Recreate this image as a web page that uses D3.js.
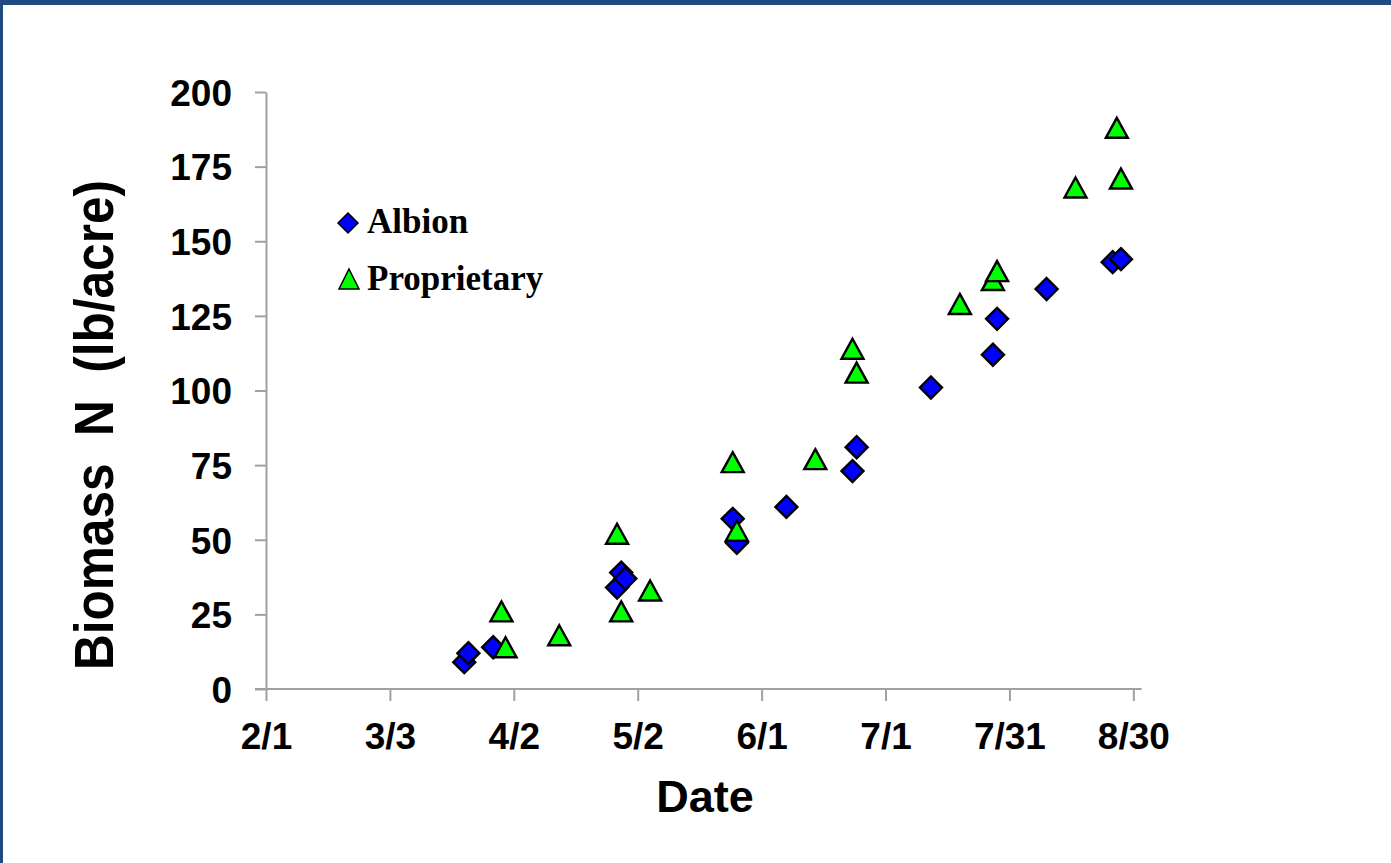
<!DOCTYPE html>
<html><head><meta charset="utf-8">
<script src="https://cdn.jsdelivr.net/npm/d3@7"></script>
<style>
html,body{margin:0;padding:0;background:#fff;}
svg{display:block;}
</style></head>
<body>
<svg id="chart" width="1391" height="863"></svg>
<script>
// ---- data ----
const albionDates = ["2013-03-21","2013-03-22","2013-03-28","2013-04-27","2013-04-28","2013-04-29","2013-05-25","2013-05-26","2013-06-07","2013-06-23","2013-06-24","2013-07-12","2013-07-27","2013-07-28","2013-08-09","2013-08-25","2013-08-27"];
const albionValues = [9,12,14,34,39,37,57,49,61,73,81,101,112,124,134,143,144];
const propDates = ["2013-03-30","2013-03-31","2013-04-13","2013-04-27","2013-04-28","2013-05-05","2013-05-25","2013-05-26","2013-06-14","2013-06-23","2013-06-24","2013-07-19","2013-07-27","2013-07-28","2013-08-16","2013-08-26","2013-08-27"];
const propValues = [26,14,18,52,26,33,76,53,77,114,106,129,137,140,168,188,171];
const xTickLabels = ["2/1","3/3","4/2","5/2","6/1","7/1","7/31","8/30"];
const xTickDates = ["2013-02-01","2013-03-03","2013-04-02","2013-05-02","2013-06-01","2013-07-01","2013-07-31","2013-08-30"];
const yTicks = [0,25,50,75,100,125,150,175,200];
const seriesNames = ["Albion","Proprietary"];

const parse = d3.timeParse("%Y-%m-%d");
const svg = d3.select("#chart");

// frame
svg.append("rect").attr("x",0).attr("y",0).attr("width",1391).attr("height",5).attr("fill","#204a80");
svg.append("rect").attr("x",0).attr("y",0).attr("width",3).attr("height",863).attr("fill","#204a80");

const x = d3.scaleTime().domain([parse("2013-02-01"), parse("2013-09-01")]).range([266, 1141.6]);
const y = d3.scaleLinear().domain([0,200]).range([689, 92]);

const axisColor = "#a0a0a0";

// x axis
const xAxis = d3.axisBottom(x).tickValues(xTickDates.map(parse))
  .tickFormat((d,i)=>xTickLabels[i]).tickSizeInner(12).tickSizeOuter(0).tickPadding(20);
const gx = svg.append("g").attr("transform","translate(0,689)").call(xAxis);
gx.select(".domain").attr("stroke",axisColor).attr("stroke-width",2).attr("d","M255,0H1141.6");
gx.selectAll(".tick line").attr("stroke",axisColor).attr("stroke-width",2);
gx.selectAll(".tick text").attr("fill","#000").attr("font-family","Liberation Sans, Arial, sans-serif")
  .attr("font-weight","bold").attr("font-size",37).attr("dy",0).attr("y",60);

// y axis
const yAxis = d3.axisLeft(y).tickValues(yTicks).tickSizeInner(11).tickSizeOuter(0).tickPadding(23);
const gy = svg.append("g").attr("transform","translate(266,0)").call(yAxis);
gy.select(".domain").attr("stroke",axisColor).attr("stroke-width",2);
gy.selectAll(".tick line").attr("stroke",axisColor).attr("stroke-width",2);
gy.selectAll(".tick text").attr("fill","#000").attr("font-family","Liberation Sans, Arial, sans-serif")
  .attr("font-weight","bold").attr("font-size",37).attr("dy","0.36em");

// axis titles
svg.append("text").attr("x",705).attr("y",812).attr("text-anchor","middle")
  .attr("font-family","Liberation Sans, Arial, sans-serif").attr("font-weight","bold").attr("font-size",45)
  .text("Date");
svg.append("text").attr("transform","translate(113,425) rotate(-90)").attr("text-anchor","middle")
  .attr("font-family","Liberation Sans, Arial, sans-serif").attr("font-weight","bold").attr("font-size",56)
  .attr("textLength",490).attr("lengthAdjust","spacingAndGlyphs")
  .style("white-space","pre").text("Biomass  N  (lb/acre)");

// markers
const diamond = s => `M0,${-s}L${s},0L0,${s}L${-s},0Z`;
const triangle = (w,h) => `M0,${-h/2}L${w/2},${h/2}L${-w/2},${h/2}Z`;

const albion = albionDates.map((d,i)=>({date:parse(d), v:albionValues[i]}));
const prop = propDates.map((d,i)=>({date:parse(d), v:propValues[i]}));

svg.append("g").selectAll("path").data(albion).join("path")
  .attr("d", diamond(11))
  .attr("transform", d=>`translate(${x(d.date)},${y(d.v)})`)
  .attr("fill","#0000ff").attr("stroke","#000").attr("stroke-width",2.4).attr("stroke-linejoin","miter");

svg.append("g").selectAll("path").data(prop).join("path")
  .attr("d", triangle(22,20))
  .attr("transform", d=>`translate(${x(d.date)},${y(d.v)})`)
  .attr("fill","#00ff00").attr("stroke","#000").attr("stroke-width",2.4).attr("stroke-linejoin","miter");

// legend
const lg = svg.append("g");
lg.append("path").attr("d",diamond(10)).attr("transform","translate(348,223)")
  .attr("fill","#0000ff").attr("stroke","#000").attr("stroke-width",1.5);
lg.append("path").attr("d",triangle(20,20)).attr("transform","translate(349,279)")
  .attr("fill","#00ff00").attr("stroke","#000").attr("stroke-width",1.5);
lg.append("text").attr("x",367).attr("y",233).attr("font-family","Liberation Serif, 'Times New Roman', serif")
  .attr("font-weight","bold").attr("font-size",35).text(seriesNames[0]);
lg.append("text").attr("x",367).attr("y",290).attr("font-family","Liberation Serif, 'Times New Roman', serif")
  .attr("font-weight","bold").attr("font-size",35).text(seriesNames[1]);
</script>
</body></html>
